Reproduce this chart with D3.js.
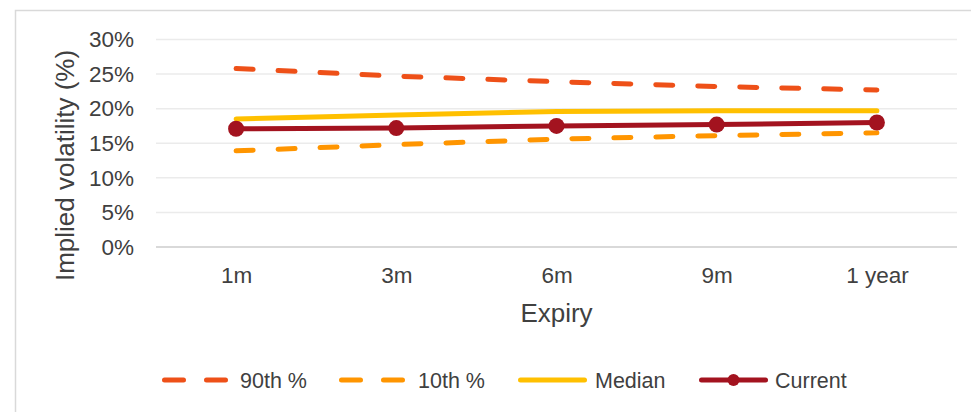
<!DOCTYPE html>
<html>
<head>
<meta charset="utf-8">
<script src="https://cdn.jsdelivr.net/npm/d3@7"></script>
<style>
  html, body { margin: 0; padding: 0; background: #fff; }
  svg { display: block; font-family: "Liberation Sans", Arial, sans-serif; }
</style>
</head>
<body>
<svg id="chart" width="971" height="412"></svg>
<script>
// Expiry buckets on the x axis
const expiries = ["1m", "3m", "6m", "9m", "1 year"];

// Implied volatility by expiry (fractions)
const pct90 = [0.258, 0.247, 0.239, 0.232, 0.227];
const pct10 = [0.139, 0.148, 0.156, 0.161, 0.165];
const median = [0.185, 0.191, 0.196, 0.197, 0.197];
const current = [0.171, 0.172, 0.175, 0.177, 0.180];

// Y axis ticks
const yTicks = [0, 0.05, 0.10, 0.15, 0.20, 0.25, 0.30];

const seriesNames = ["90th %", "10th %", "Median", "Current"];

const series = [
  { name: seriesNames[0], values: pct90, color: "#EE5018", dash: "17 25", marker: false },
  { name: seriesNames[1], values: pct10, color: "#FF9500", dash: "17 25", marker: false },
  { name: seriesNames[2], values: median, color: "#FFC000", dash: null, marker: false },
  { name: seriesNames[3], values: current, color: "#A3131F", dash: null, marker: true }
];

const svg = d3.select("#chart");
const textColor = "#404040";

// chart frame
svg.append("rect")
  .attr("x", 15.5).attr("y", 10.5)
  .attr("width", 1000).attr("height", 500)
  .attr("fill", "none").attr("stroke", "#D9D9D9").attr("stroke-width", 1.5);

const plot = { left: 156, right: 957, top: 39.5, bottom: 247 };

const x = d3.scalePoint().domain(expiries).range([plot.left, plot.right]).padding(0.5);
const y = d3.scaleLinear().domain([0, 0.30]).range([plot.bottom, plot.top]);

// gridlines
svg.append("g").selectAll("line")
  .data(yTicks.filter(t => t > 0))
  .join("line")
  .attr("x1", plot.left).attr("x2", plot.right)
  .attr("y1", d => y(d)).attr("y2", d => y(d))
  .attr("stroke", "#EBEBEB").attr("stroke-width", 1.5);

// baseline
svg.append("line")
  .attr("x1", plot.left).attr("x2", plot.right)
  .attr("y1", y(0)).attr("y2", y(0))
  .attr("stroke", "#D9D9D9").attr("stroke-width", 2);

// y axis labels
const yAxis = d3.axisLeft(y).tickValues(yTicks).tickFormat(d3.format(".0%")).tickSize(0).tickPadding(0);
const yg = svg.append("g").attr("transform", `translate(${plot.left - 22},0)`).call(yAxis);
yg.select(".domain").remove();
yg.selectAll("text")
  .attr("font-size", 22.5).attr("fill", textColor)
  .attr("font-family", "Liberation Sans, Arial, sans-serif");

// x axis labels
const xAxis = d3.axisBottom(x).tickSize(0).tickPadding(0);
const xg = svg.append("g").attr("transform", `translate(0,${plot.bottom + 20})`).call(xAxis);
xg.select(".domain").remove();
xg.selectAll("text")
  .attr("font-size", 22.5).attr("fill", textColor).attr("dy", "0.71em")
  .attr("font-family", "Liberation Sans, Arial, sans-serif");

// axis titles
svg.append("text")
  .attr("x", (plot.left + plot.right) / 2).attr("y", 322)
  .attr("text-anchor", "middle").attr("font-size", 26).attr("fill", textColor)
  .text("Expiry");

svg.append("text")
  .attr("transform", "translate(74,165.5) rotate(-90)")
  .attr("text-anchor", "middle").attr("font-size", 26).attr("fill", textColor)
  .text("Implied volatility (%)");

// series lines
const line = d3.line().x((d, i) => x(expiries[i])).y(d => y(d));

series.forEach(s => {
  svg.append("path")
    .datum(s.values)
    .attr("d", line)
    .attr("fill", "none")
    .attr("stroke", s.color)
    .attr("stroke-width", 5)
    .attr("stroke-linecap", "round")
    .attr("stroke-linejoin", "round")
    .attr("stroke-dasharray", s.dash);
  if (s.marker) {
    svg.append("g").selectAll("circle")
      .data(s.values)
      .join("circle")
      .attr("cx", (d, i) => x(expiries[i]))
      .attr("cy", d => y(d))
      .attr("r", 8)
      .attr("fill", s.color);
  }
});

// legend
const legendY = 380;
const legendItems = [
  { s: series[0], x0: 162, x1: 228, tx: 240 },
  { s: series[1], x0: 339, x1: 405, tx: 418 },
  { s: series[2], x0: 518, x1: 587, tx: 595 },
  { s: series[3], x0: 699, x1: 768, tx: 775 }
];
const lg = svg.append("g");
legendItems.forEach(it => {
  lg.append("line")
    .attr("x1", it.x0 + 2.5).attr("x2", it.x1 - 2.5)
    .attr("y1", legendY).attr("y2", legendY)
    .attr("stroke", it.s.color).attr("stroke-width", 5)
    .attr("stroke-linecap", "round")
    .attr("stroke-dasharray", it.s.dash ? "19 23" : null);
  if (it.s.marker) {
    lg.append("circle")
      .attr("cx", (it.x0 + it.x1) / 2).attr("cy", legendY).attr("r", 6)
      .attr("fill", it.s.color);
  }
  lg.append("text")
    .attr("x", it.tx).attr("y", legendY).attr("dy", "0.35em")
    .attr("font-size", 21.5).attr("fill", textColor)
    .text(it.s.name);
});
</script>
</body>
</html>
